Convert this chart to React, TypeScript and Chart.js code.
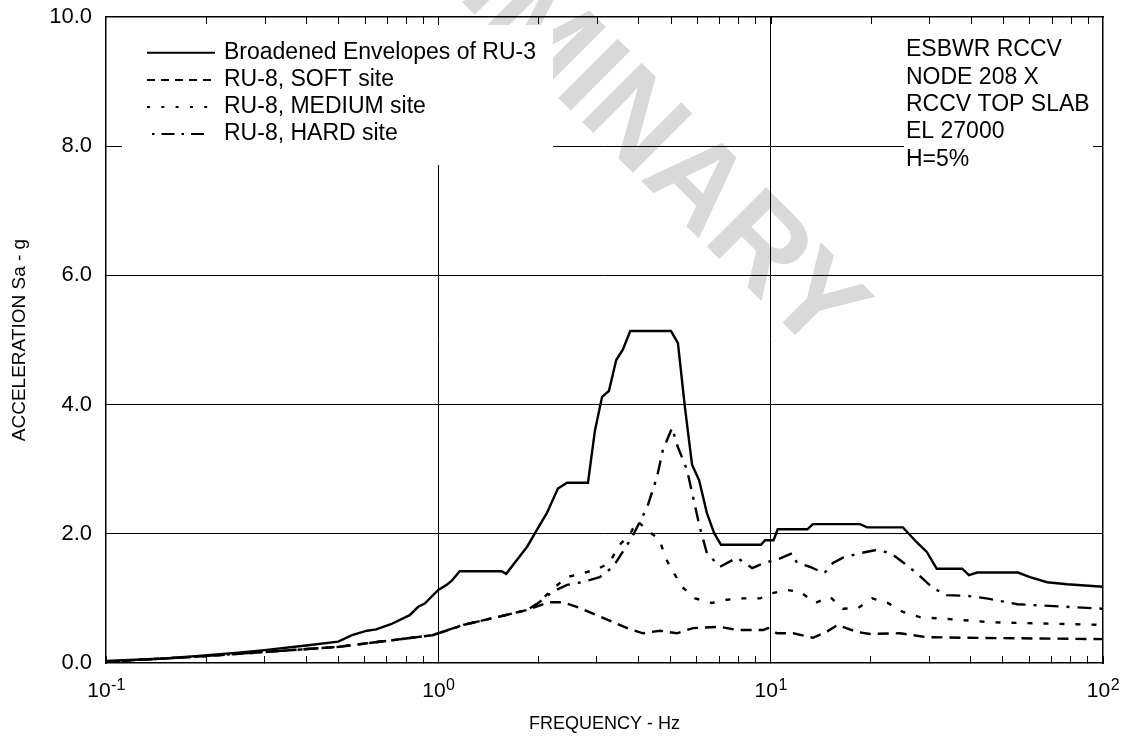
import React, { useEffect, useRef } from 'react';
import { Chart, registerables } from 'chart.js';

Chart.register(...registerables);

// ---------------- data ----------------
const SERIES_LABELS = [
  'Broadened Envelopes of RU-3',
  'RU-8, SOFT site',
  'RU-8, MEDIUM site',
  'RU-8, HARD site',
];

const envF = [0.1, 0.15, 0.19, 0.25, 0.3, 0.4, 0.5, 0.55, 0.61, 0.65, 0.72, 0.82, 0.87, 0.91, 1.0, 1.06, 1.1, 1.16, 1.55, 1.6, 1.85, 1.98, 2.12, 2.29, 2.44, 2.82, 2.96, 3.11, 3.26, 3.43, 3.59, 3.78, 5.01, 5.26, 5.52, 5.8, 6.09, 6.43, 6.76, 7.09, 9.35, 9.62, 10.2, 10.5, 12.9, 13.4, 18.6, 19.5, 25.0, 27.5, 29.5, 31.6, 37.7, 39.5, 41.8, 55.5, 60.3, 67.9, 78, 100];
const envA = [0.03, 0.07, 0.11, 0.16, 0.2, 0.27, 0.33, 0.43, 0.5, 0.52, 0.6, 0.74, 0.87, 0.92, 1.13, 1.21, 1.28, 1.42, 1.42, 1.38, 1.8, 2.06, 2.32, 2.7, 2.79, 2.79, 3.6, 4.12, 4.21, 4.69, 4.85, 5.14, 5.14, 4.95, 3.96, 3.07, 2.83, 2.32, 2.01, 1.83, 1.83, 1.9, 1.9, 2.07, 2.07, 2.15, 2.15, 2.1, 2.1, 1.87, 1.72, 1.46, 1.46, 1.36, 1.4, 1.4, 1.33, 1.25, 1.22, 1.18];

const softF = [0.1, 0.19, 0.3, 0.5, 0.96, 1.19, 1.5, 1.85, 2.14, 2.37, 2.67, 3.13, 3.7, 4.13, 4.64, 5.22, 5.84, 7.04, 7.92, 9.49, 9.82, 10.45, 11.7, 13.4, 14.8, 15.9, 18.2, 19.9, 24.5, 29.5, 39.0, 100];
const softA = [0.02, 0.1, 0.17, 0.25, 0.43, 0.59, 0.71, 0.82, 0.94, 0.94, 0.85, 0.7, 0.54, 0.46, 0.5, 0.46, 0.54, 0.56, 0.51, 0.51, 0.54, 0.46, 0.46, 0.39, 0.49, 0.59, 0.48, 0.45, 0.46, 0.4, 0.39, 0.37];

const medF = [0.1, 0.19, 0.3, 0.5, 0.96, 1.19, 1.5, 1.85, 2.0, 2.2, 2.44, 2.67, 3.0, 3.28, 3.47, 3.78, 3.96, 4.19, 4.64, 4.81, 5.05, 5.41, 5.92, 6.66, 7.39, 8.25, 9.29, 10.1, 11.2, 12.3, 13.6, 15.1, 16.5, 18.3, 20.2, 22.5, 25.0, 28.1, 34.2, 46.7, 100];
const medA = [0.02, 0.1, 0.17, 0.25, 0.43, 0.59, 0.71, 0.82, 0.93, 1.14, 1.33, 1.38, 1.45, 1.55, 1.8, 2.0, 2.2, 2.09, 1.9, 1.64, 1.44, 1.18, 1.0, 0.93, 0.98, 1.0, 1.0, 1.08, 1.13, 1.1, 0.93, 1.02, 0.84, 0.85, 1.0, 0.93, 0.79, 0.71, 0.68, 0.63, 0.59];

const hardF = [0.1, 0.19, 0.3, 0.5, 0.96, 1.19, 1.5, 1.85, 2.0, 2.2, 2.44, 2.7, 3.06, 3.36, 3.83, 4.25, 4.55, 4.74, 5.05, 5.26, 5.6, 5.84, 6.12, 6.43, 7.04, 7.92, 8.8, 9.7, 10.45, 11.6, 12.0, 13.1, 14.5, 15.4, 16.5, 18.6, 20.8, 23.0, 25.0, 27.5, 30.8, 33.9, 39.0, 44.6, 55.2, 100];
const hardA = [0.02, 0.1, 0.17, 0.25, 0.43, 0.59, 0.71, 0.82, 0.93, 1.1, 1.21, 1.25, 1.33, 1.49, 1.95, 2.41, 2.88, 3.3, 3.64, 3.34, 2.99, 2.57, 2.1, 1.7, 1.49, 1.63, 1.47, 1.56, 1.6, 1.7, 1.55, 1.49, 1.39, 1.55, 1.63, 1.7, 1.75, 1.7, 1.56, 1.39, 1.16, 1.05, 1.04, 1.0, 0.91, 0.84];

const X_MIN = 0.1;
const X_MAX = 100;
const Y_MIN = 0;
const Y_MAX = 10;
const Y_STEP = 2;
const X_TICK_VALUES = [0.1, 0.2, 0.3, 0.4, 0.5, 0.6, 0.7, 0.8, 0.9, 1, 2, 3, 4, 5, 6, 7, 8, 9, 10, 20, 30, 40, 50, 60, 70, 80, 90, 100];
const X_GRID_VALUES = [1, 10];
const X_LABEL_VALUES = [0.1, 1, 10, 100];
const X_LABEL_EXPONENTS = ['-1', '0', '1', '2'];
const X_TITLE = 'FREQUENCY - Hz';
const Y_TITLE = 'ACCELERATION Sa - g';
const NOTE_LINES = ['ESBWR RCCV', 'NODE 208 X', 'RCCV TOP SLAB', 'EL 27000', 'H=5%'];
const WATERMARK = 'PRELIMINARY';

// ---------------- styles ----------------
const FONT = "'Liberation Sans', Arial, Helvetica, sans-serif";
const INK = '#000000';
const CLEAR = 'rgba(0,0,0,0)';
const DATA_DASH = [[], [11, 7], [5, 11], [14, 8, 3, 8]];
const LEGEND_DASH = [[], [8, 6], [3, 11.3], [2.5, 7, 13, 7]];
const LEGEND_LINE_X = [[147, 215], [147, 215], [147, 215], [152, 204]];
const TICK_LEN = 7;

const makePoints = (f: number[], a: number[]) => f.map((x, i) => ({ x, y: a[i] }));

const xTickBuilder = (scale: any) => {
  scale.ticks = X_TICK_VALUES.map((v) => ({ value: v, major: X_GRID_VALUES.includes(v) }));
};

const watermarkPlugin = {
  id: 'watermark',
  beforeDraw(chart: any) {
    const ctx = chart.ctx;
    const size = 122;
    ctx.save();
    ctx.font = `bold ${size}px ${FONT}`;
    ctx.fillStyle = '#d9d9d9';
    const lead = ctx.measureText('PRELI').width;
    const vis = ctx.measureText('MINARY').width;
    ctx.translate(680, 158);
    ctx.rotate((45 * Math.PI) / 180);
    ctx.textAlign = 'left';
    ctx.textBaseline = 'alphabetic';
    ctx.fillText(WATERMARK, -(lead + vis / 2), size * 0.358);
    ctx.restore();
  },
};

const panelsPlugin = {
  id: 'panels',
  beforeDatasetsDraw(chart: any) {
    const ctx = chart.ctx;
    const top = chart.chartArea.top;
    ctx.save();
    ctx.fillStyle = '#ffffff';
    ctx.fillRect(122, top + 8, 431, 165 - top - 8);
    ctx.fillRect(904, top + 8, 189, 171 - top - 8);

    ctx.textAlign = 'left';
    ctx.textBaseline = 'middle';
    chart.data.datasets.forEach((ds: any, i: number) => {
      const y = 52.8 + i * 27.1;
      ctx.beginPath();
      ctx.setLineDash(LEGEND_DASH[i]);
      ctx.lineWidth = 2;
      ctx.strokeStyle = INK;
      ctx.moveTo(LEGEND_LINE_X[i][0], y);
      ctx.lineTo(LEGEND_LINE_X[i][1], y);
      ctx.stroke();
      ctx.setLineDash([]);
      ctx.font = `23px ${FONT}`;
      ctx.fillStyle = INK;
      ctx.fillText(ds.label, 224, y);
    });

    ctx.font = `23px ${FONT}`;
    ctx.fillStyle = INK;
    NOTE_LINES.forEach((t, i) => {
      ctx.fillText(t, 906, 50 + i * 27.3);
    });
    ctx.restore();
  },
  afterDraw(chart: any) {
    const ctx = chart.ctx;
    const xs = chart.scales.x;
    const xt = chart.scales.xTop;
    const top = chart.chartArea.top;
    ctx.save();
    // inward tick marks along the top frame
    ctx.strokeStyle = INK;
    ctx.lineWidth = 1;
    ctx.beginPath();
    X_TICK_VALUES.forEach((v) => {
      if (v === X_MIN || v === X_MAX) return;
      const px = Math.round(xt.getPixelForValue(v)) + 0.5;
      ctx.moveTo(px, top);
      ctx.lineTo(px, top + TICK_LEN);
    });
    ctx.stroke();

    ctx.fillStyle = INK;
    ctx.textAlign = 'left';
    ctx.textBaseline = 'middle';
    X_LABEL_VALUES.forEach((v, i) => {
      const px = xs.getPixelForValue(v);
      ctx.font = `21px ${FONT}`;
      const wb = ctx.measureText('10').width;
      ctx.font = `16px ${FONT}`;
      const we = ctx.measureText(X_LABEL_EXPONENTS[i]).width;
      const x0 = px - (wb + we) / 2;
      ctx.font = `21px ${FONT}`;
      ctx.fillText('10', x0, 691);
      ctx.font = `16px ${FONT}`;
      ctx.fillText(X_LABEL_EXPONENTS[i], x0 + wb + 0.5, 685.5);
    });
    ctx.restore();
  },
};

export default function App() {
  const ref = useRef<HTMLCanvasElement>(null);

  useEffect(() => {
    if (!ref.current) return;
    const series = [
      makePoints(envF, envA),
      makePoints(softF, softA),
      makePoints(medF, medA),
      makePoints(hardF, hardA),
    ];
    const chart = new Chart(ref.current, {
      type: 'line',
      data: {
        datasets: series.map((pts, i) => ({
          label: SERIES_LABELS[i],
          data: pts,
          borderColor: INK,
          backgroundColor: INK,
          borderWidth: 2.4,
          borderDash: DATA_DASH[i],
          pointRadius: 0,
          pointHoverRadius: 0,
          fill: false,
          tension: 0,
          xAxisID: 'x',
          yAxisID: 'y',
        })),
      },
      options: {
        responsive: false,
        animation: false,
        devicePixelRatio: 1,
        layout: { padding: { left: 0, top: 17, right: 22, bottom: 0 } },
        plugins: {
          legend: { display: false },
          tooltip: { enabled: false },
        },
        scales: {
          x: {
            type: 'logarithmic',
            position: 'bottom',
            min: X_MIN,
            max: X_MAX,
            afterBuildTicks: xTickBuilder,
            grid: {
              color: (c: any) => (c.tick && X_GRID_VALUES.includes(c.tick.value) ? INK : CLEAR),
              tickColor: INK,
              drawTicks: true,
              tickLength: -TICK_LEN,
              lineWidth: 1,
            },
            border: { display: true, color: INK, width: 1.5 },
            ticks: { display: false },
            title: {
              display: true,
              text: X_TITLE,
              color: INK,
              font: { family: FONT, size: 18 },
              padding: { top: 0, bottom: 8.5 },
            },
            afterFit: (s: any) => {
              s.height = 80;
            },
          },
          xTop: {
            type: 'logarithmic',
            position: 'top',
            min: X_MIN,
            max: X_MAX,
            afterBuildTicks: xTickBuilder,
            grid: {
              drawOnChartArea: false,
              drawTicks: false,
            },
            border: { display: true, color: INK, width: 1.5 },
            ticks: { display: false },
            afterFit: (s: any) => {
              s.height = 0;
            },
          },
          y: {
            type: 'linear',
            position: 'left',
            min: Y_MIN,
            max: Y_MAX,
            ticks: {
              stepSize: Y_STEP,
              callback: (v: any) => Number(v).toFixed(1),
              color: INK,
              font: { family: FONT, size: 22 },
              padding: 0,
            },
            grid: {
              color: (c: any) =>
                c.tick && (c.tick.value === Y_MIN || c.tick.value === Y_MAX) ? CLEAR : INK,
              drawTicks: true,
              tickLength: 14,
              tickColor: CLEAR,
              lineWidth: 1,
            },
            border: { display: true, color: INK, width: 1.5 },
            title: {
              display: true,
              text: Y_TITLE,
              color: INK,
              font: { family: FONT, size: 19 },
              padding: { top: 8, bottom: 0 },
            },
            afterFit: (s: any) => {
              s.width = 106;
            },
          },
          yRight: {
            type: 'linear',
            position: 'right',
            min: Y_MIN,
            max: Y_MAX,
            grid: { drawOnChartArea: false, drawTicks: false },
            border: { display: true, color: INK, width: 1.5 },
            ticks: { display: false },
            afterFit: (s: any) => {
              s.width = 0;
            },
          },
        },
      } as any,
      plugins: [watermarkPlugin, panelsPlugin],
    });
    return () => chart.destroy();
  }, []);

  return (
    <div style={{ position: 'absolute', left: 0, top: 0, width: 1125, height: 743, background: '#ffffff' }}>
      <canvas ref={ref} width={1125} height={743} style={{ display: 'block', width: 1125, height: 743 }} />
    </div>
  );
}
